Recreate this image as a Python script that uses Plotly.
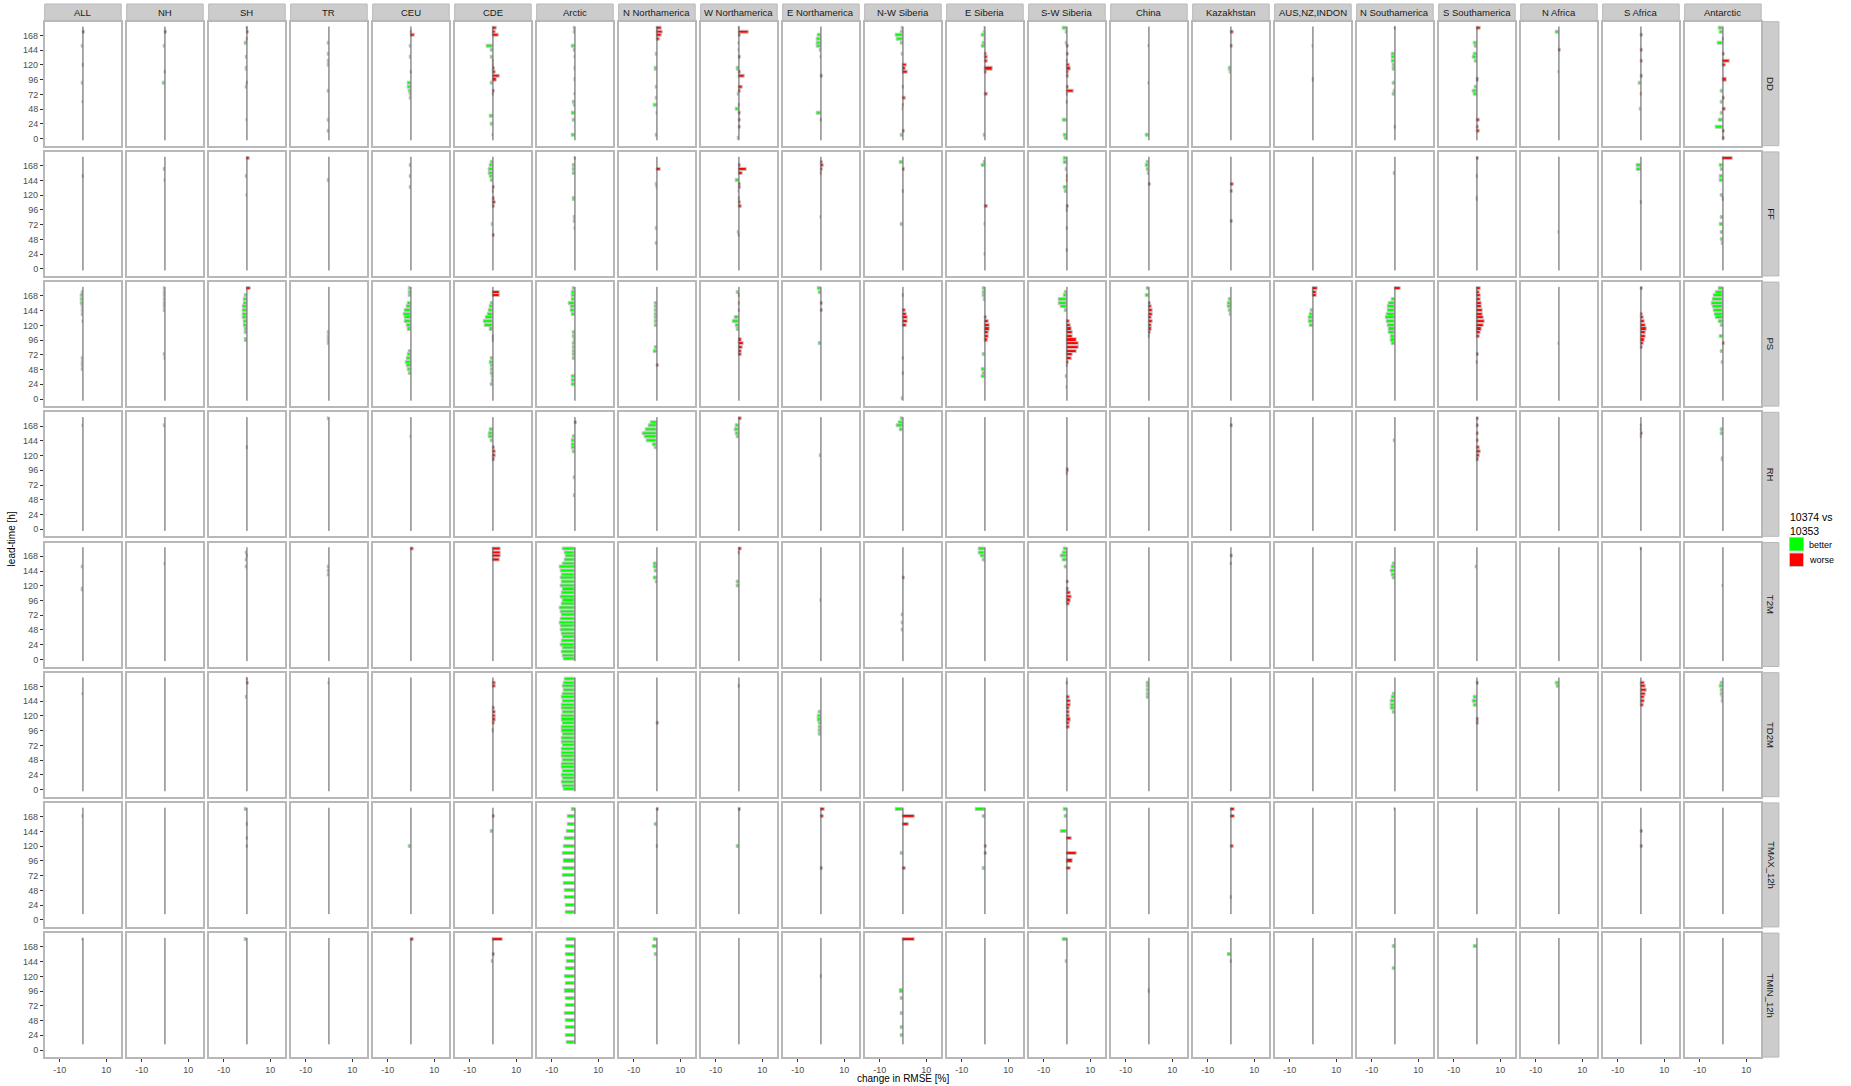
import plotly.graph_objects as go

REGIONS = ["ALL", "NH", "SH", "TR", "CEU", "CDE", "Arctic", "N Northamerica",
           "W Northamerica", "E Northamerica", "N-W Siberia", "E Siberia",
           "S-W Siberia", "China", "Kazakhstan", "AUS,NZ,INDON", "N Southamerica",
           "S Southamerica", "N Africa", "S Africa", "Antarctic"]
VARIABLES = ["DD", "FF", "PS", "RH", "T2M", "TD2M", "TMAX_12h", "TMIN_12h"]
Y_TICKS = [0, 24, 48, 72, 96, 120, 144, 168]
X_TICKS = [-10, 10]
X_TICK_TEXT = ["-10", "10"]
LEGEND_TITLE = "10374 vs<br>10353"
LEGEND_LABELS = ["better", "worse"]

# (lead-time [h], change in RMSE [%]) for the visible bars of each panel
DD = {
    "ALL": [(174, 0.8), (150, -0.6), (120, 0.2), (90, -0.6), (60, -0.2)],
    "NH": [(174, 0.6), (150, -0.6), (108, 0.2), (90, -1.1)],
    "SH": [(180, 0.5), (174, 0.6), (162, 0.5), (156, -1.0), (132, -0.5), (114, -0.5), (90, 0.5), (84, -0.5), (30, -0.2)],
    "TR": [(156, -0.5), (138, -0.5), (126, -0.4), (120, -0.4), (78, -0.5), (30, -0.5), (12, -0.5)],
    "CEU": [(174, 0.5), (168, 1.5), (150, -0.6), (132, -0.5), (108, 0.5), (90, -1.5), (84, -1.2), (78, -0.8), (72, -0.6), (66, -0.5)],
    "CDE": [(180, 1.6), (174, 1.1), (168, 2.5), (150, -2.5), (144, -1.0), (132, -0.8), (126, 0.5), (120, 0.5), (114, 0.8), (108, 1.2), (102, 3.0), (96, 1.5), (90, -1.0), (78, 0.7), (72, 0.3), (36, -1.5), (24, -0.8), (6, -0.3)],
    "Arctic": [(180, -0.6), (174, -0.5), (150, -1.2), (144, -0.6), (132, -0.3), (114, -0.3), (96, -0.3), (72, -0.3), (60, -0.8), (54, -0.5), (42, -1.2), (30, -1.0), (6, -1.2)],
    "N Northamerica": [(180, 2.0), (174, 2.5), (168, 2.2), (162, 1.0), (138, -0.6), (114, -0.8), (84, -0.6), (66, -0.5), (54, -1.5), (42, -0.3), (6, -0.5)],
    "W Northamerica": [(180, 0.5), (174, 4.0), (168, 0.6), (156, -0.3), (144, -0.3), (132, 0.6), (114, -0.8), (108, 0.8), (102, 2.5), (84, 1.5), (78, 0.6), (72, -0.6), (54, 0.5), (48, -1.2), (42, 0.8), (30, 0.6), (18, 0.6), (0, -0.6)],
    "E Northamerica": [(168, -1.5), (162, -1.8), (156, -2.0), (150, -1.8), (144, -0.6), (132, -0.3), (102, 0.6), (42, -1.8), (30, 0.5)],
    "N-W Siberia": [(180, -0.6), (174, -1.0), (168, -3.0), (162, -2.8), (156, -1.0), (138, -0.5), (120, 1.5), (114, 1.2), (108, 2.0), (84, 0.5), (66, 1.2), (54, 0.5), (48, -0.3), (12, 0.6), (6, -1.0)],
    "E Siberia": [(180, -0.3), (174, -0.6), (168, -1.5), (162, -0.3), (156, -1.0), (150, -1.5), (138, 0.8), (132, 1.0), (126, 1.0), (114, 3.2), (108, 0.6), (72, 1.0), (6, -0.6)],
    "S-W Siberia": [(180, -2.0), (174, -0.5), (156, -0.5), (150, 0.8), (138, 0.8), (126, 0.5), (120, 1.0), (114, 1.5), (108, 0.8), (102, 0.6), (84, 0.8), (78, 2.8), (72, 0.5), (60, 0.3), (30, -2.0), (6, -1.2), (0, -1.0)],
    "China": [(150, -0.3), (90, -0.3), (6, -1.2)],
    "Kazakhstan": [(174, 1.2), (150, 0.8), (114, -1.0), (108, -0.6)],
    "AUS,NZ,INDON": [(150, -0.3), (96, 0.3)],
    "N Southamerica": [(180, 0.5), (138, -1.5), (132, -1.2), (126, -1.5), (120, -1.0), (114, -0.8), (90, -0.8), (78, -0.6), (72, -0.8), (18, 0.5)],
    "S Southamerica": [(180, 1.5), (156, -1.5), (150, -1.0), (138, -1.2), (132, -1.8), (126, -0.8), (96, 0.6), (84, -1.0), (78, -2.0), (72, -1.5), (30, 1.0), (18, 0.8), (12, 1.0)],
    "N Africa": [(174, -1.5), (144, 0.6), (108, -0.3)],
    "S Africa": [(168, 0.6), (144, 0.6), (126, 0.6), (102, 0.6), (90, -0.8), (72, 0.5), (48, -0.6)],
    "Antarctic": [(180, -1.8), (174, -1.5), (162, 0.5), (156, -2.2), (138, 0.8), (126, 3.0), (120, 1.0), (96, 1.5), (78, -0.8), (66, 0.6), (60, -0.8), (48, 1.2), (42, -1.0), (30, -1.8), (18, -3.0), (12, 0.6), (0, 0.6)],
}

FF = {
    "ALL": [(150, 0.2)],
    "NH": [(162, -0.5), (144, -0.3)],
    "SH": [(180, 1.0), (150, -0.5), (120, -0.3)],
    "TR": [(144, -0.4)],
    "CEU": [(168, -0.6), (150, -0.5), (132, -0.5)],
    "CDE": [(174, -0.8), (168, -1.5), (162, -2.0), (156, -2.0), (150, -1.5), (144, -0.8), (132, 0.8), (126, 0.5), (114, 0.6), (108, 1.2), (102, 0.6), (72, -0.5), (54, 0.8)],
    "Arctic": [(180, 0.3), (168, -1.0), (162, -1.0), (156, -0.8), (114, -0.8), (84, -0.6), (78, -0.5), (66, -0.3)],
    "N Northamerica": [(162, 1.5), (138, -0.6), (132, -0.3), (66, -0.6), (42, -0.4)],
    "W Northamerica": [(168, 0.8), (162, 3.5), (156, 1.8), (144, -1.5), (138, 0.6), (132, 0.8), (126, -0.3), (114, 0.5), (108, 0.6), (102, 1.2), (60, -0.6), (54, 0.3)],
    "E Northamerica": [(174, 0.6), (168, 1.2), (162, 0.8), (156, 0.5), (84, -0.3)],
    "N-W Siberia": [(174, -1.5), (162, 0.6), (126, 0.3), (72, -0.8)],
    "E Siberia": [(174, -0.5), (168, -1.5), (102, 1.2), (72, -0.3), (24, -0.3)],
    "S-W Siberia": [(180, -1.2), (174, -1.2), (162, -0.6), (150, 0.3), (144, 0.3), (132, -1.5), (126, -0.8), (102, 0.6), (96, 0.3), (66, 0.3), (30, 0.3)],
    "China": [(174, -1.0), (168, -1.2), (162, -0.8), (156, -0.6), (138, 0.8)],
    "Kazakhstan": [(138, 1.0), (126, 0.8), (78, 0.6)],
    "AUS,NZ,INDON": [],
    "N Southamerica": [(156, -0.5)],
    "S Southamerica": [(180, 0.8), (150, 0.5), (114, 0.5)],
    "N Africa": [(60, -0.3)],
    "S Africa": [(168, -2.0), (162, -1.8), (108, 0.5)],
    "Antarctic": [(180, 4.0), (168, -1.5), (162, -1.0), (150, -1.5), (144, -1.2), (120, -0.8), (114, 0.5), (84, -1.0), (72, -1.2), (60, -0.8), (48, -1.0), (42, -0.6)],
}

PS = {
    "ALL": [(174, -0.6), (168, -0.8), (162, -0.8), (156, -0.8), (150, -0.6), (144, -0.6), (138, -0.5), (126, -0.3), (66, -0.5), (60, -0.5), (54, -0.5), (48, -0.4)],
    "NH": [(180, -0.5), (174, -0.6), (168, -0.6), (162, -0.6), (156, -0.5), (150, -0.5), (144, -0.4), (72, -0.5), (66, -0.3)],
    "SH": [(180, 1.5), (168, -0.8), (162, -1.2), (156, -1.5), (150, -2.0), (144, -2.0), (138, -2.0), (132, -1.8), (126, -1.5), (120, -1.2), (114, -1.0), (108, -0.8), (96, -0.8)],
    "TR": [(108, -0.5), (102, -0.5), (96, -0.4), (90, -0.5)],
    "CEU": [(180, -0.8), (174, -1.0), (168, -1.0), (156, -1.2), (150, -1.8), (144, -2.5), (138, -3.0), (132, -2.8), (126, -2.5), (120, -2.0), (114, -1.2), (78, -1.0), (72, -1.5), (66, -2.0), (60, -2.2), (54, -1.8), (48, -1.2), (42, -0.8)],
    "CDE": [(174, 3.0), (168, 3.0), (156, -1.0), (150, -1.5), (144, -2.0), (138, -2.2), (132, -3.0), (126, -3.8), (120, -3.5), (114, -1.5), (102, 0.5), (96, 0.5), (66, -1.0), (60, -1.2), (54, -1.0), (48, -0.8), (42, -0.8), (36, -0.6), (30, -0.6), (24, -1.0)],
    "Arctic": [(180, -1.0), (174, -1.2), (168, -1.5), (162, -1.2), (156, -2.5), (150, -2.0), (144, -2.0), (138, -1.2), (108, -0.8), (102, -0.8), (96, -0.6), (90, -0.8), (84, -0.8), (78, -0.8), (72, -1.0), (66, -1.0), (36, -1.5), (30, -1.5), (24, -1.2)],
    "N Northamerica": [(156, -0.8), (150, -0.8), (144, -0.8), (138, -0.8), (132, -0.8), (126, -0.8), (120, -0.8), (84, -1.0), (78, -1.5), (54, 0.6)],
    "W Northamerica": [(174, -0.8), (168, 0.5), (156, 0.3), (144, 0.5), (132, -2.0), (126, -2.5), (120, -1.5), (114, -0.8), (96, 1.0), (90, 2.0), (84, 1.8), (78, 1.2), (72, 1.0)],
    "E Northamerica": [(180, -1.5), (174, -0.8), (156, 0.8), (144, 0.8), (90, -0.8)],
    "N-W Siberia": [(168, 0.5), (144, 1.0), (138, 1.5), (132, 2.0), (126, 2.0), (120, 1.5), (66, 0.5), (42, 0.3), (0, -0.5)],
    "E Siberia": [(180, -1.0), (174, -1.0), (168, -0.8), (162, -0.6), (132, 0.6), (126, 1.5), (120, 2.0), (114, 2.0), (108, 1.5), (102, 1.5), (96, 1.0), (72, -0.8), (48, -1.2), (42, -1.0), (36, -1.2)],
    "S-W Siberia": [(174, -1.0), (168, -1.5), (162, -3.5), (156, -3.5), (150, -2.5), (144, -1.0), (126, 1.0), (120, 1.5), (114, 2.0), (108, 2.5), (102, 2.5), (96, 4.0), (90, 5.0), (84, 5.0), (78, 4.0), (72, 2.5), (66, 2.0), (60, 0.8), (54, 0.5), (36, -0.6), (18, -0.3)],
    "China": [(180, -1.0), (168, -1.5), (156, 0.8), (150, 1.0), (144, 1.5), (138, 1.5), (132, 1.2), (126, 1.5), (120, 1.2), (114, 1.0), (108, 0.6), (102, 0.5)],
    "Kazakhstan": [(162, -0.8), (156, -1.5), (150, -1.2), (144, -0.8), (138, -0.5)],
    "AUS,NZ,INDON": [(180, 2.0), (174, 1.8), (168, 1.5), (144, -1.0), (138, -1.5), (132, -2.0), (126, -1.8), (120, -1.2)],
    "N Southamerica": [(180, 2.5), (162, -1.5), (156, -2.5), (150, -3.0), (144, -3.0), (138, -3.5), (132, -4.0), (126, -3.5), (120, -3.0), (114, -2.5), (108, -2.5), (102, -2.0), (96, -2.0), (90, -1.5)],
    "S Southamerica": [(180, 1.5), (174, 1.2), (168, 1.5), (162, 1.8), (156, 2.0), (150, 2.2), (144, 2.5), (138, 2.5), (132, 3.0), (126, 3.5), (120, 3.0), (114, 2.0), (108, 1.5), (102, 1.0), (72, 0.6), (60, 0.5)],
    "N Africa": [(90, -0.3)],
    "S Africa": [(180, 0.8), (138, 0.8), (132, 1.2), (126, 1.8), (120, 2.2), (114, 2.5), (108, 2.2), (102, 2.0), (96, 1.5), (90, 1.2), (84, 0.8)],
    "Antarctic": [(180, -2.0), (174, -3.0), (168, -4.0), (162, -4.5), (156, -5.0), (150, -4.5), (144, -4.0), (138, -3.5), (132, -3.0), (126, -2.0), (120, -1.0), (102, -1.5), (90, 0.6), (78, -1.0), (60, -0.5)],
}

RH = {
    "ALL": [(168, -0.3)],
    "NH": [(168, -0.4)],
    "SH": [(132, 0.2)],
    "TR": [(180, -0.4)],
    "CEU": [(150, -0.3)],
    "CDE": [(162, -1.5), (156, -2.0), (150, -1.8), (144, -1.0), (132, 0.8), (126, 1.0), (120, 1.2), (114, 0.6)],
    "Arctic": [(174, 0.6), (150, -1.0), (144, -1.5), (138, -1.5), (132, -1.2), (126, -0.8), (84, -0.6), (54, -0.5)],
    "N Northamerica": [(174, -2.5), (168, -3.5), (162, -5.0), (156, -6.0), (150, -5.5), (144, -4.5), (138, -2.0), (132, -1.0)],
    "W Northamerica": [(180, 1.2), (168, -1.5), (162, -2.0), (156, -1.5), (150, -0.8)],
    "E Northamerica": [(120, -0.5)],
    "N-W Siberia": [(180, -1.0), (174, -2.0), (168, -2.5), (162, -1.5)],
    "E Siberia": [],
    "S-W Siberia": [(96, 0.6), (90, 0.4)],
    "China": [],
    "Kazakhstan": [(168, 0.6)],
    "AUS,NZ,INDON": [],
    "N Southamerica": [(144, -0.5)],
    "S Southamerica": [(180, 0.8), (168, 0.6), (156, 0.8), (144, 0.6), (132, 1.0), (126, 1.5), (120, 1.2), (114, 0.6)],
    "N Africa": [],
    "S Africa": [(168, 0.5), (162, 0.5), (156, 0.6), (150, 0.4)],
    "Antarctic": [(162, -0.8), (156, -0.8), (114, -0.5)],
}

T2M = {
    "ALL": [(150, -0.5), (114, -0.4)],
    "NH": [(156, -0.3)],
    "SH": [(174, -0.6), (168, 0.4), (162, -0.6), (150, -0.5)],
    "TR": [(150, -0.5), (144, -0.5), (138, -0.5)],
    "CEU": [(180, 1.0)],
    "CDE": [(180, 3.5), (174, 3.5), (168, 3.5), (162, 3.0)],
    "Arctic": [(180, -5.4), (174, -4.3), (168, -4.0), (162, -4.6), (156, -5.3), (150, -6.6), (144, -6.0), (138, -5.8), (132, -6.0), (126, -5.8), (120, -6.2), (114, -5.5), (108, -5.6), (102, -6.0), (96, -5.5), (90, -5.8), (84, -6.4), (78, -6.0), (72, -5.7), (66, -6.3), (60, -6.5), (54, -6.0), (48, -6.2), (42, -5.8), (36, -5.5), (30, -5.7), (24, -6.0), (18, -5.5), (12, -5.8), (6, -5.5), (0, -5.0)],
    "N Northamerica": [(156, -1.2), (150, -1.5), (144, -1.0), (132, -1.5), (126, -0.6)],
    "W Northamerica": [(180, 1.0), (174, 0.5), (126, -1.0), (120, -1.0)],
    "E Northamerica": [(96, -0.3)],
    "N-W Siberia": [(132, 0.6), (72, -0.5), (60, -0.4), (48, -0.5)],
    "E Siberia": [(180, -2.5), (174, -2.8), (168, -2.0), (162, -1.0)],
    "S-W Siberia": [(180, -1.5), (174, -2.0), (168, -2.5), (162, -1.8), (150, -0.8), (126, 0.6), (114, 0.8), (108, 1.5), (102, 2.0), (96, 1.8), (90, 1.0)],
    "China": [],
    "Kazakhstan": [(168, 0.8), (156, 0.5)],
    "AUS,NZ,INDON": [],
    "N Southamerica": [(156, -1.0), (150, -1.5), (144, -1.8), (138, -1.5), (132, -1.0)],
    "S Southamerica": [(150, -0.5)],
    "N Africa": [],
    "S Africa": [(180, 0.4)],
    "Antarctic": [(120, -0.3)],
}

TD2M = {
    "ALL": [(156, -0.3)],
    "NH": [],
    "SH": [(180, 0.5), (174, 0.8), (150, -0.5)],
    "TR": [(174, -0.3)],
    "CEU": [],
    "CDE": [(174, 1.0), (168, 1.0), (132, 0.8), (126, 1.0), (120, 1.0), (114, 1.2), (108, 0.8), (96, 0.3)],
    "Arctic": [(180, -4.5), (174, -5.0), (168, -5.2), (162, -5.0), (156, -5.5), (150, -5.8), (144, -5.5), (138, -5.6), (132, -5.8), (126, -5.5), (120, -5.6), (114, -5.8), (108, -5.5), (102, -5.6), (96, -5.7), (90, -5.5), (84, -5.8), (78, -5.6), (72, -5.5), (66, -5.7), (60, -5.8), (54, -5.6), (48, -5.5), (42, -5.7), (36, -5.6), (30, -5.5), (24, -5.8), (18, -5.5), (12, -5.6), (6, -5.4), (0, -5.0)],
    "N Northamerica": [(108, 0.6)],
    "W Northamerica": [(168, 0.4)],
    "E Northamerica": [(126, -1.0), (120, -1.2), (114, -1.2), (108, -1.0), (102, -1.0), (96, -0.8), (90, -0.8)],
    "N-W Siberia": [],
    "E Siberia": [],
    "S-W Siberia": [(174, 0.5), (150, 1.2), (144, 1.5), (138, 1.5), (132, 1.2), (126, 1.0), (120, 1.2), (114, 1.5), (108, 1.2), (102, 1.0)],
    "China": [(174, -1.0), (168, -1.0), (162, -0.8), (156, -0.8), (150, -0.8)],
    "Kazakhstan": [],
    "AUS,NZ,INDON": [],
    "N Southamerica": [(156, -1.0), (150, -1.5), (144, -2.0), (138, -2.0), (132, -1.8), (126, -1.0)],
    "S Southamerica": [(174, 0.6), (150, -1.5), (144, -2.0), (138, -1.5), (114, 0.8), (108, 0.6)],
    "N Africa": [(174, -1.2), (168, -1.0)],
    "S Africa": [(174, 1.5), (168, 2.0), (162, 2.5), (156, 2.0), (150, 1.5), (144, 1.5), (138, 1.2)],
    "Antarctic": [(174, -1.0), (168, -1.2), (162, -1.0), (156, -0.8), (150, -0.6), (144, -0.5)],
}

TMAX_12h = {
    "ALL": [(168, -0.3)],
    "NH": [],
    "SH": [(180, -0.8), (156, 0.3), (132, 0.4), (120, 0.5)],
    "TR": [],
    "CEU": [(120, -0.8)],
    "CDE": [(168, 0.8), (144, -0.8)],
    "Arctic": [(180, -1.5), (168, -3.0), (156, -3.0), (144, -3.5), (132, -4.5), (120, -5.0), (108, -5.5), (96, -5.0), (84, -5.5), (72, -5.5), (60, -5.0), (48, -4.5), (36, -4.5), (24, -4.0), (12, -4.0)],
    "N Northamerica": [(180, 0.6), (156, -1.0), (120, 0.3)],
    "W Northamerica": [(180, 0.8), (120, -1.0)],
    "E Northamerica": [(180, 1.5), (168, 1.2), (84, 0.6)],
    "N-W Siberia": [(180, -3.0), (168, 5.0), (156, 2.5), (108, -0.8), (84, 1.2)],
    "E Siberia": [(180, -4.0), (168, -1.0), (120, 0.8), (108, 0.8), (84, -0.8)],
    "S-W Siberia": [(180, -1.5), (168, -1.0), (144, -2.5), (132, 2.0), (108, 4.0), (96, 2.5), (84, 1.5)],
    "China": [],
    "Kazakhstan": [(180, 1.5), (168, 1.5), (120, 1.0), (36, 0.3)],
    "AUS,NZ,INDON": [],
    "N Southamerica": [(180, -0.3)],
    "S Southamerica": [],
    "N Africa": [],
    "S Africa": [(144, 0.6), (120, 0.6)],
    "Antarctic": [],
}

TMIN_12h = {
    "ALL": [(180, -0.3)],
    "NH": [],
    "SH": [(180, -0.8)],
    "TR": [],
    "CEU": [(180, 1.0)],
    "CDE": [(180, 4.0), (156, 0.6), (144, -0.5)],
    "Arctic": [(180, -3.5), (168, -4.0), (156, -4.0), (144, -3.5), (132, -4.0), (120, -4.5), (108, -4.0), (96, -4.5), (84, -4.0), (72, -4.0), (60, -4.5), (48, -4.0), (36, -4.0), (24, -4.0), (12, -3.5)],
    "N Northamerica": [(180, -1.5), (168, -1.8), (156, -1.0)],
    "W Northamerica": [],
    "E Northamerica": [(120, 0.3)],
    "N-W Siberia": [(180, 5.0), (96, -1.5), (84, -1.0), (60, -0.8), (36, -0.8), (24, -0.8)],
    "E Siberia": [],
    "S-W Siberia": [(180, -2.0), (144, -0.5)],
    "China": [(96, 0.5)],
    "Kazakhstan": [(156, -1.5), (144, 0.5)],
    "AUS,NZ,INDON": [],
    "N Southamerica": [(168, -1.0), (132, -0.8)],
    "S Southamerica": [(168, -1.2)],
    "N Africa": [],
    "S Africa": [],
    "Antarctic": [],
}

DATA = {"DD": DD, "FF": FF, "PS": PS, "RH": RH, "T2M": T2M, "TD2M": TD2M,
        "TMAX_12h": TMAX_12h, "TMIN_12h": TMIN_12h}
LEAD_RANGE = {"DD": (0, 180), "FF": (0, 180), "PS": (0, 180), "RH": (0, 180),
              "T2M": (0, 180), "TD2M": (0, 180), "TMAX_12h": (12, 180), "TMIN_12h": (12, 180)}

# ---------------- layout geometry (pixels) ----------------
W, H = 1851, 1086
PX0, PPITCH, PW = 44.7, 82.0, 76.5
PY0, RPITCH, PH = 21.7, 130.2, 124.0
XR = [-16.5, 16.5]
YR = [-11.5, 190.5]

GREEN = "#00FF00"
RED = "#FF0000"
FONT = "Liberation Sans, Arial, sans-serif"


def fx(px):
    return px / W


def fy(py):
    return 1 - py / H


fig = go.Figure()
layout = {}
shapes = []
annotations = []
nrow, ncol = len(VARIABLES), len(REGIONS)

for r, var in enumerate(VARIABLES):
    top = PY0 + r * RPITCH
    for c, reg in enumerate(REGIONS):
        k = r * ncol + c + 1
        sfx = "" if k == 1 else str(k)
        left = PX0 + c * PPITCH
        pts = DATA[var].get(reg, [])
        leads = [p[0] for p in pts]
        vals = [p[1] for p in pts]
        cols = [GREEN if v < 0 else RED for v in vals]
        fig.add_trace(go.Bar(
            x=vals, y=leads, orientation="h", width=5,
            marker=dict(color=cols, line=dict(color="#c4c4c4", width=1)),
            xaxis="x" + sfx, yaxis="y" + sfx, showlegend=False, hoverinfo="skip"))
        bottom_row = (r == nrow - 1)
        first_col = (c == 0)
        layout["xaxis" + sfx] = dict(
            domain=[fx(left), fx(left + PW)], range=XR, anchor="y" + sfx,
            showgrid=False, zeroline=False, showline=True, mirror=True,
            linecolor="#b8b8b8", linewidth=1.5,
            tickvals=X_TICKS, ticktext=X_TICK_TEXT,
            ticks="outside" if bottom_row else "", ticklen=3, tickcolor="#333333",
            showticklabels=bottom_row,
            tickfont=dict(family=FONT, size=9, color="#4d4d4d"), fixedrange=True)
        layout["yaxis" + sfx] = dict(
            domain=[fy(top + PH), fy(top)], range=YR, anchor="x" + sfx,
            showgrid=False, zeroline=False, showline=True, mirror=True,
            linecolor="#b8b8b8", linewidth=1.5,
            tickvals=Y_TICKS,
            ticks="outside" if first_col else "", ticklen=3, tickcolor="#333333",
            showticklabels=first_col,
            tickfont=dict(family=FONT, size=9, color="#4d4d4d"), fixedrange=True)
        lo, hi = LEAD_RANGE[var]
        shapes.append(dict(type="line", xref="x" + sfx, yref="y" + sfx,
                           x0=0, x1=0, y0=lo - 2.7, y1=hi + 2.7,
                           line=dict(color="#555555", width=1), layer="above"))

# top strips (regions)
for c, reg in enumerate(REGIONS):
    left = PX0 + c * PPITCH
    shapes.append(dict(type="rect", xref="paper", yref="paper",
                       x0=fx(left), x1=fx(left + PW), y0=fy(20.3), y1=fy(4.0),
                       fillcolor="#cccccc", line=dict(color="#b8b8b8", width=1), layer="below"))
    annotations.append(dict(text=reg, xref="paper", yref="paper",
                            x=fx(left + PW / 2), y=fy(12.3), showarrow=False,
                            xanchor="center", yanchor="middle",
                            font=dict(family=FONT, size=9.5, color="#1a1a1a")))

# right strips (variables)
SX0 = PX0 + (ncol - 1) * PPITCH + PW + 1.2
for r, var in enumerate(VARIABLES):
    top = PY0 + r * RPITCH
    shapes.append(dict(type="rect", xref="paper", yref="paper",
                       x0=fx(SX0), x1=fx(SX0 + 16.5), y0=fy(top + PH), y1=fy(top),
                       fillcolor="#cccccc", line=dict(color="#b8b8b8", width=1), layer="below"))
    annotations.append(dict(text=var, xref="paper", yref="paper",
                            x=fx(SX0 + 8.25), y=fy(top + PH / 2), showarrow=False,
                            textangle=90, xanchor="center", yanchor="middle",
                            font=dict(family=FONT, size=9.5, color="#1a1a1a")))

# axis titles
annotations.append(dict(text="change in RMSE [%]", xref="paper", yref="paper",
                        x=fx((PX0 + SX0 - 1.2) / 2), y=fy(1078), showarrow=False,
                        xanchor="center", yanchor="middle",
                        font=dict(family=FONT, size=10, color="#000000")))
annotations.append(dict(text="lead-time [h]", xref="paper", yref="paper",
                        x=fx(11), y=fy(PY0 + (nrow * RPITCH - 6.2) / 2), showarrow=False,
                        textangle=-90, xanchor="center", yanchor="middle",
                        font=dict(family=FONT, size=10, color="#000000")))

# legend
annotations.append(dict(text=LEGEND_TITLE, xref="paper", yref="paper",
                        x=fx(1788), y=fy(509), showarrow=False, align="left",
                        xanchor="left", yanchor="top",
                        font=dict(family=FONT, size=10.5, color="#000000")))
for i, (lab, col) in enumerate(zip(LEGEND_LABELS, [GREEN, RED])):
    y0 = 537.5 + i * 15.5
    shapes.append(dict(type="rect", xref="paper", yref="paper",
                       x0=fx(1789.5), x1=fx(1803.5), y0=fy(y0 + 13.5), y1=fy(y0),
                       fillcolor=col, line=dict(color="#c4c4c4", width=1)))
    annotations.append(dict(text=lab, xref="paper", yref="paper",
                            x=fx(1807), y=fy(y0 + 7), showarrow=False,
                            xanchor="left", yanchor="middle",
                            font=dict(family=FONT, size=9, color="#000000")))

layout.update(dict(
    width=W, height=H, margin=dict(l=0, r=0, t=0, b=0),
    paper_bgcolor="white", plot_bgcolor="white",
    shapes=shapes, annotations=annotations, bargap=0, showlegend=False,
))
fig.update_layout(**layout)
fig.write_html("out.html", config={"displayModeBar": False},
               post_script="document.body.style.margin='0';document.body.style.overflow='hidden';")
